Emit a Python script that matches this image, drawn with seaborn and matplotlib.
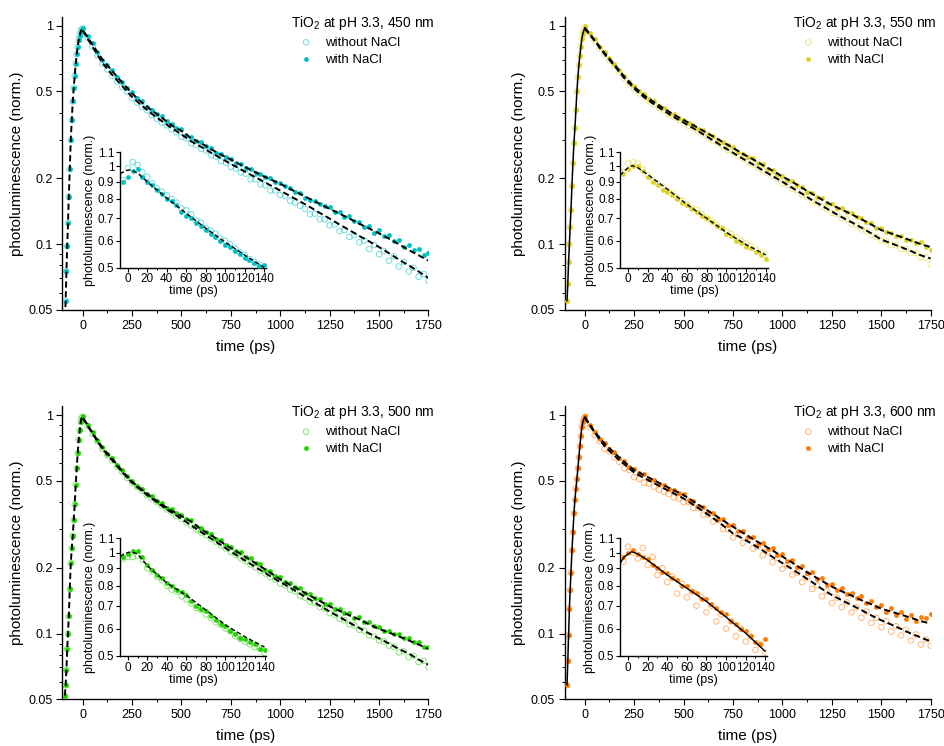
import matplotlib

matplotlib.use("Agg")
import matplotlib.pyplot as plt
import numpy as np
import seaborn as sns
from matplotlib.ticker import FixedLocator, FixedFormatter, MultipleLocator, NullFormatter

# time grids (ps)
t_rise = [-90, -86, -82, -78, -74, -70, -65, -60, -55, -50, -45, -40, -35, -30, -25, -20, -15, -10, -5]
t_decay = np.arange(0, 1751, 25)
t_fit = np.arange(0, 1751, 50)
t_inset = np.arange(-5, 141, 5)
t_inset_fit = [-8, -4, 0, 4, 10, 20, 40, 60, 80, 100, 120, 140]

main_yticks = [0.05, 0.1, 0.2, 0.5, 1]
main_yminor = [0.06, 0.07, 0.08, 0.09, 0.3, 0.4, 0.6, 0.7, 0.8, 0.9]
inset_yticks = [0.5, 0.6, 0.7, 0.8, 0.9, 1.0, 1.1]

# ---- 450 nm ----
rise_450 = [0.042, 0.055, 0.075, 0.098, 0.125, 0.165, 0.22, 0.30, 0.37, 0.45,
            0.52, 0.59, 0.67, 0.74, 0.80, 0.86, 0.90, 0.94, 0.96]
with_450 = [0.98, 0.90, 0.83, 0.76, 0.70, 0.66, 0.625, 0.58, 0.555, 0.52,
            0.495, 0.465, 0.45, 0.425, 0.41, 0.395, 0.385, 0.365, 0.355, 0.34,
            0.335, 0.315, 0.31, 0.298, 0.292, 0.28, 0.275, 0.262, 0.26, 0.25,
            0.246, 0.236, 0.233, 0.224, 0.222, 0.212, 0.21, 0.203, 0.20, 0.193,
            0.19, 0.184, 0.181, 0.174, 0.172, 0.163, 0.16, 0.158, 0.152, 0.150,
            0.148, 0.140, 0.141, 0.133, 0.134, 0.128, 0.127, 0.120, 0.121, 0.113,
            0.116, 0.109, 0.110, 0.103, 0.104, 0.097, 0.099, 0.094, 0.095, 0.089,
            0.091]
without_450 = [0.97, 0.88, 0.80, 0.73, 0.67, 0.63, 0.59, 0.555, 0.525, 0.50,
               0.465, 0.445, 0.425, 0.41, 0.39, 0.375, 0.36, 0.35, 0.335, 0.325,
               0.31, 0.305, 0.29, 0.285, 0.273, 0.268, 0.255, 0.252, 0.24, 0.236,
               0.226, 0.222, 0.213, 0.21, 0.198, 0.198, 0.188, 0.186, 0.176, 0.176,
               0.168, 0.166, 0.158, 0.155, 0.150, 0.145, 0.137, 0.138, 0.130, 0.130,
               0.122, 0.123, 0.115, 0.116, 0.108, 0.110, 0.102, 0.104, 0.095, 0.099,
               0.090, 0.093, 0.084, 0.088, 0.079, 0.083, 0.075, 0.078, 0.071, 0.073,
               0.068]
fit_with_450 = [0.96, 0.82, 0.70, 0.62, 0.55, 0.49, 0.445, 0.41, 0.38, 0.35,
                0.33, 0.305, 0.29, 0.272, 0.257, 0.244, 0.231, 0.219, 0.208, 0.198,
                0.189, 0.179, 0.170, 0.161, 0.153, 0.145, 0.138, 0.131, 0.124, 0.118,
                0.112, 0.106, 0.100, 0.094, 0.089, 0.084]
fit_without_450 = [0.95, 0.80, 0.675, 0.595, 0.53, 0.472, 0.43, 0.395, 0.366, 0.34,
                   0.318, 0.295, 0.279, 0.262, 0.247, 0.233, 0.220, 0.208, 0.197, 0.186,
                   0.176, 0.166, 0.157, 0.148, 0.139, 0.131, 0.123, 0.116, 0.109, 0.103,
                   0.097, 0.091, 0.085, 0.080, 0.075, 0.070]
inset_with_450 = [0.90, 0.93, 0.97, 0.98, 0.93, 0.90, 0.88, 0.85, 0.83, 0.80,
                  0.79, 0.765, 0.73, 0.71, 0.70, 0.68, 0.665, 0.645, 0.63, 0.615,
                  0.60, 0.585, 0.575, 0.56, 0.55, 0.535, 0.525, 0.515, 0.505, 0.51]
inset_without_450 = [0.91, 0.99, 1.03, 1.01, 0.96, 0.93, 0.89, 0.86, 0.84, 0.82,
                     0.80, 0.78, 0.75, 0.74, 0.72, 0.69, 0.68, 0.655, 0.645, 0.63,
                     0.61, 0.60, 0.585, 0.57, 0.555, 0.545, 0.53, 0.52, 0.51, 0.50]
inset_fit_450 = [0.95, 0.965, 0.975, 0.975, 0.955, 0.90, 0.805, 0.725, 0.655, 0.595, 0.545, 0.50]

# ---- 550 nm ----
rise_550 = [0.055, 0.066, 0.083, 0.10, 0.12, 0.143, 0.185, 0.235, 0.29, 0.34,
            0.41, 0.50, 0.58, 0.66, 0.73, 0.80, 0.87, 0.92, 0.95]
with_550 = [1.0, 0.93, 0.87, 0.80, 0.755, 0.71, 0.67, 0.625, 0.59, 0.555,
            0.53, 0.50, 0.485, 0.46, 0.452, 0.43, 0.422, 0.40, 0.395, 0.378,
            0.372, 0.357, 0.352, 0.338, 0.333, 0.318, 0.314, 0.30, 0.295, 0.283,
            0.278, 0.265, 0.26, 0.25, 0.247, 0.236, 0.232, 0.222, 0.218, 0.209,
            0.206, 0.197, 0.195, 0.186, 0.183, 0.174, 0.172, 0.164, 0.162, 0.155,
            0.153, 0.147, 0.146, 0.140, 0.139, 0.133, 0.132, 0.126, 0.125, 0.119,
            0.118, 0.114, 0.113, 0.109, 0.109, 0.105, 0.105, 0.101, 0.102, 0.097,
            0.094]
without_550 = [0.98, 0.91, 0.85, 0.785, 0.74, 0.69, 0.655, 0.61, 0.575, 0.54,
               0.515, 0.49, 0.47, 0.452, 0.437, 0.42, 0.408, 0.393, 0.382, 0.37,
               0.36, 0.348, 0.339, 0.327, 0.318, 0.307, 0.298, 0.288, 0.279, 0.270,
               0.262, 0.253, 0.246, 0.238, 0.232, 0.224, 0.218, 0.211, 0.205, 0.199,
               0.19, 0.187, 0.179, 0.176, 0.168, 0.164, 0.157, 0.154, 0.148, 0.145,
               0.139, 0.137, 0.131, 0.13, 0.124, 0.122, 0.117, 0.115, 0.110, 0.108,
               0.104, 0.103, 0.099, 0.099, 0.095, 0.095, 0.091, 0.091, 0.087, 0.087,
               0.081]
fit_with_550 = [0.98, 0.86, 0.75, 0.665, 0.585, 0.525, 0.48, 0.447, 0.418, 0.392,
                0.370, 0.350, 0.330, 0.311, 0.293, 0.276, 0.259, 0.245, 0.230, 0.217,
                0.204, 0.193, 0.181, 0.170, 0.160, 0.151, 0.144, 0.137, 0.130, 0.123,
                0.116, 0.112, 0.108, 0.104, 0.100, 0.097]
fit_without_550 = [0.97, 0.85, 0.74, 0.655, 0.575, 0.515, 0.47, 0.437, 0.408, 0.382,
                   0.360, 0.339, 0.318, 0.298, 0.279, 0.262, 0.246, 0.232, 0.218, 0.205,
                   0.193, 0.181, 0.170, 0.159, 0.150, 0.141, 0.133, 0.126, 0.119, 0.112,
                   0.105, 0.101, 0.097, 0.093, 0.089, 0.086]
inset_with_550 = [0.95, 0.98, 1.0, 1.0, 0.97, 0.93, 0.90, 0.88, 0.85, 0.84,
                  0.82, 0.80, 0.78, 0.77, 0.745, 0.73, 0.71, 0.70, 0.685, 0.665,
                  0.655, 0.63, 0.62, 0.60, 0.59, 0.575, 0.57, 0.555, 0.545, 0.53]
inset_without_550 = [0.96, 1.02, 1.03, 1.02, 0.98, 0.94, 0.91, 0.89, 0.87, 0.845,
                     0.83, 0.805, 0.79, 0.77, 0.75, 0.74, 0.72, 0.70, 0.69, 0.67,
                     0.655, 0.64, 0.63, 0.615, 0.60, 0.59, 0.58, 0.565, 0.555, 0.545]
inset_fit_550 = [0.94, 0.97, 0.99, 1.005, 0.99, 0.945, 0.855, 0.77, 0.70, 0.636, 0.585, 0.545]

# ---- 500 nm ----
rise_500 = [0.052, 0.058, 0.068, 0.085, 0.10, 0.12, 0.16, 0.21, 0.245, 0.28,
            0.33, 0.39, 0.48, 0.57, 0.67, 0.77, 0.85, 0.93, 0.97]
with_500 = [0.99, 0.90, 0.835, 0.765, 0.715, 0.665, 0.635, 0.59, 0.56, 0.525,
            0.50, 0.475, 0.46, 0.435, 0.425, 0.405, 0.395, 0.377, 0.37, 0.355,
            0.35, 0.335, 0.33, 0.312, 0.305, 0.29, 0.286, 0.272, 0.268, 0.254,
            0.25, 0.238, 0.235, 0.224, 0.221, 0.21, 0.207, 0.196, 0.194, 0.184,
            0.181, 0.172, 0.170, 0.163, 0.161, 0.154, 0.152, 0.145, 0.144, 0.137,
            0.136, 0.130, 0.130, 0.124, 0.124, 0.118, 0.119, 0.113, 0.113, 0.108,
            0.107, 0.103, 0.103, 0.099, 0.099, 0.095, 0.095, 0.091, 0.091, 0.087,
            0.087]
without_500 = [0.98, 0.89, 0.82, 0.755, 0.70, 0.655, 0.62, 0.58, 0.55, 0.515,
               0.49, 0.468, 0.45, 0.43, 0.415, 0.40, 0.385, 0.37, 0.358, 0.345,
               0.335, 0.322, 0.312, 0.30, 0.29, 0.282, 0.271, 0.263, 0.253, 0.245,
               0.236, 0.229, 0.221, 0.214, 0.207, 0.201, 0.193, 0.188, 0.181, 0.177,
               0.169, 0.166, 0.159, 0.156, 0.149, 0.146, 0.140, 0.138, 0.132, 0.130,
               0.124, 0.122, 0.117, 0.115, 0.110, 0.109, 0.104, 0.103, 0.098, 0.097,
               0.093, 0.092, 0.088, 0.087, 0.082, 0.083, 0.078, 0.079, 0.074, 0.075,
               0.070]
fit_with_500 = [0.98, 0.83, 0.71, 0.63, 0.555, 0.495, 0.455, 0.42, 0.39, 0.365,
                0.345, 0.325, 0.300, 0.282, 0.263, 0.246, 0.231, 0.217, 0.203, 0.190,
                0.177, 0.167, 0.158, 0.149, 0.141, 0.133, 0.127, 0.121, 0.116, 0.110,
                0.105, 0.101, 0.097, 0.093, 0.089, 0.085]
fit_without_500 = [0.97, 0.82, 0.70, 0.62, 0.548, 0.49, 0.45, 0.415, 0.384, 0.358,
                   0.335, 0.312, 0.291, 0.272, 0.254, 0.237, 0.222, 0.208, 0.195, 0.183,
                   0.172, 0.162, 0.152, 0.143, 0.134, 0.126, 0.119, 0.112, 0.106, 0.100,
                   0.095, 0.090, 0.085, 0.081, 0.076, 0.072]
inset_with_500 = [0.97, 0.99, 1.01, 1.01, 0.97, 0.92, 0.89, 0.86, 0.84, 0.815,
                  0.80, 0.78, 0.765, 0.75, 0.72, 0.70, 0.685, 0.675, 0.655, 0.635,
                  0.62, 0.61, 0.59, 0.58, 0.565, 0.56, 0.55, 0.54, 0.525, 0.52]
inset_without_500 = [0.96, 0.97, 0.97, 0.98, 0.95, 0.90, 0.88, 0.85, 0.83, 0.80,
                     0.78, 0.77, 0.745, 0.73, 0.71, 0.69, 0.68, 0.66, 0.645, 0.625,
                     0.615, 0.60, 0.59, 0.57, 0.56, 0.55, 0.54, 0.53, 0.525, 0.51]
inset_fit_500 = [0.975, 0.99, 1.0, 1.005, 0.99, 0.915, 0.815, 0.75, 0.68, 0.615, 0.568, 0.53]

# ---- 600 nm ----
rise_600 = [0.058, 0.075, 0.098, 0.13, 0.158, 0.19, 0.24, 0.29, 0.355, 0.41,
            0.46, 0.51, 0.57, 0.64, 0.72, 0.80, 0.88, 0.93, 0.96]
with_600 = [0.99, 0.90, 0.84, 0.78, 0.745, 0.70, 0.675, 0.635, 0.615, 0.58,
            0.565, 0.54, 0.535, 0.51, 0.505, 0.485, 0.48, 0.46, 0.455, 0.44,
            0.435, 0.41, 0.405, 0.385, 0.38, 0.36, 0.355, 0.335, 0.333, 0.315,
            0.313, 0.295, 0.295, 0.276, 0.277, 0.258, 0.26, 0.243, 0.245, 0.228,
            0.23, 0.214, 0.217, 0.202, 0.204, 0.189, 0.192, 0.177, 0.18, 0.166,
            0.168, 0.158, 0.161, 0.152, 0.154, 0.145, 0.148, 0.138, 0.141, 0.132,
            0.135, 0.126, 0.131, 0.121, 0.126, 0.117, 0.122, 0.114, 0.119, 0.118,
            0.123]
without_600 = [0.98, 0.88, 0.81, 0.76, 0.70, 0.68, 0.64, 0.61, 0.57, 0.56,
               0.52, 0.51, 0.49, 0.485, 0.47, 0.455, 0.445, 0.435, 0.42, 0.415,
               0.40, 0.40, 0.375, 0.375, 0.35, 0.35, 0.325, 0.33, 0.30, 0.30,
               0.275, 0.285, 0.26, 0.27, 0.245, 0.25, 0.228, 0.236, 0.212, 0.222,
               0.198, 0.205, 0.186, 0.19, 0.172, 0.18, 0.16, 0.166, 0.148, 0.156,
               0.138, 0.146, 0.132, 0.139, 0.125, 0.132, 0.118, 0.126, 0.112, 0.118,
               0.107, 0.114, 0.102, 0.108, 0.098, 0.104, 0.093, 0.099, 0.089, 0.094,
               0.088]
fit_with_600 = [0.98, 0.84, 0.74, 0.67, 0.61, 0.56, 0.531, 0.503, 0.477, 0.453,
                0.43, 0.402, 0.376, 0.352, 0.329, 0.308, 0.289, 0.271, 0.255, 0.24,
                0.225, 0.211, 0.197, 0.185, 0.174, 0.164, 0.156, 0.149, 0.142, 0.136,
                0.130, 0.126, 0.122, 0.118, 0.114, 0.111]
fit_without_600 = [0.97, 0.83, 0.72, 0.65, 0.595, 0.545, 0.515, 0.488, 0.462, 0.438,
                   0.415, 0.388, 0.362, 0.337, 0.312, 0.287, 0.272, 0.256, 0.24, 0.224,
                   0.21, 0.197, 0.184, 0.172, 0.160, 0.150, 0.142, 0.135, 0.128, 0.121,
                   0.115, 0.110, 0.105, 0.100, 0.096, 0.092]
inset_with_600 = [0.97, 1.0, 1.02, 0.99, 0.97, 0.96, 0.92, 0.90, 0.88, 0.87,
                  0.84, 0.83, 0.80, 0.80, 0.77, 0.76, 0.73, 0.73, 0.71, 0.69,
                  0.67, 0.66, 0.63, 0.62, 0.60, 0.59, 0.57, 0.55, 0.54, 0.56]
inset_without_600 = [0.94, 1.04, 1.0, 0.96, 1.03, 0.92, 0.97, 0.86, 0.90, 0.82,
                     0.85, 0.76, 0.81, 0.74, 0.77, 0.70, 0.74, 0.67, 0.70, 0.63,
                     0.66, 0.60, 0.63, 0.57, 0.60, 0.55, 0.57, 0.52, 0.54, 0.51]
inset_fit_600 = [0.93, 0.97, 0.99, 1.005, 0.99, 0.95, 0.86, 0.787, 0.72, 0.648, 0.582, 0.515]

panels = [
    dict(wl="450", color="#00BFC2", main=[0.0661, 0.5845, 0.3873, 0.3932], inset=[0.127, 0.6414, 0.1545, 0.1542],
         rise=rise_450, without=without_450, with_=with_450, fit_without=fit_without_450, fit_with=fit_with_450,
         in_without=inset_without_450, in_with=inset_with_450, in_fit=inset_fit_450, solid=False),
    dict(wl="550", color="#DDD324", main=[0.5975, 0.5845, 0.3873, 0.3932], inset=[0.6564, 0.6414, 0.1560, 0.1542],
         rise=rise_550, without=without_550, with_=with_550, fit_without=fit_without_550, fit_with=fit_with_550,
         in_without=inset_without_550, in_with=inset_with_550, in_fit=inset_fit_550, solid=True),
    dict(wl="500", color="#22D200", main=[0.0661, 0.0626, 0.3873, 0.3932], inset=[0.127, 0.1209, 0.1550, 0.1575],
         rise=rise_500, without=without_500, with_=with_500, fit_without=fit_without_500, fit_with=fit_with_500,
         in_without=inset_without_500, in_with=inset_with_500, in_fit=inset_fit_500, solid=False),
    dict(wl="600", color="#FF7A00", main=[0.5975, 0.0626, 0.3873, 0.3932], inset=[0.6563, 0.1209, 0.1556, 0.1575],
         rise=rise_600, without=without_600, with_=with_600, fit_without=fit_without_600, fit_with=fit_with_600,
         in_without=inset_without_600, in_with=inset_with_600, in_fit=inset_fit_600, solid=True),
]

sns.set_style("ticks", {"axes.edgecolor": "black", "xtick.color": "black", "ytick.color": "black",
                        "text.color": "black", "axes.labelcolor": "black"})
plt.rcParams["font.family"] = ["Liberation Sans", "DejaVu Sans"]
plt.rcParams["mathtext.fontset"] = "custom"
plt.rcParams["mathtext.rm"] = "Liberation Sans"

DASH = (0, (3.2, 1.8))


def style_axis(ax, labelsize, major_len, minor_len, pad):
    sns.despine(ax=ax)
    for side in ("left", "bottom"):
        ax.spines[side].set_linewidth(1.0)
    ax.tick_params(which="major", direction="out", length=major_len, width=0.8, labelsize=labelsize, pad=pad)
    ax.tick_params(which="minor", direction="out", length=minor_len, width=0.7)


def draw_panel(fig, p):
    ax = fig.add_axes(p["main"])
    ax.set_yscale("log")
    c = p["color"]

    x_all = np.concatenate([t_rise, t_decay])
    sns.scatterplot(x=x_all, y=np.concatenate([p["rise"], p["without"]]), ax=ax, marker="o", s=16,
                    facecolor="none", edgecolor=c, linewidth=0.7, alpha=0.55, label="without NaCl", zorder=2)
    sns.scatterplot(x=x_all, y=np.concatenate([p["rise"], p["with_"]]), ax=ax, marker="o", s=10,
                    color=c, edgecolor=c, linewidth=0.3, label="with NaCl", zorder=3)

    if p["solid"]:
        sns.lineplot(x=list(t_rise) + [0], y=list(p["rise"]) + [p["fit_with"][0]], ax=ax, color="black",
                     linewidth=1.1, estimator=None, sort=False, zorder=4)
        sns.lineplot(x=t_fit, y=p["fit_with"], ax=ax, color="black", linewidth=1.4, linestyle=DASH,
                     estimator=None, sort=False, zorder=4)
    else:
        sns.lineplot(x=np.concatenate([t_rise, t_fit]), y=np.concatenate([p["rise"], p["fit_with"]]), ax=ax,
                     color="black", linewidth=1.4, linestyle=DASH, estimator=None, sort=False, zorder=4)
    sns.lineplot(x=t_fit, y=p["fit_without"], ax=ax, color="black", linewidth=1.4, linestyle=DASH,
                 estimator=None, sort=False, zorder=4)

    ax.set_xlim(-102, 1750)
    ax.set_ylim(0.05, 1.1)
    ax.xaxis.set_major_locator(MultipleLocator(250))
    ax.xaxis.set_minor_locator(MultipleLocator(125))
    ax.yaxis.set_major_locator(FixedLocator(main_yticks))
    ax.yaxis.set_major_formatter(FixedFormatter(["%g" % v for v in main_yticks]))
    ax.yaxis.set_minor_locator(FixedLocator(main_yminor))
    ax.yaxis.set_minor_formatter(NullFormatter())
    style_axis(ax, 9, 4, 2.3, 3)
    ax.set_xlabel("time (ps)", fontsize=11, labelpad=6)
    ax.set_ylabel("photoluminescence (norm.)", fontsize=11, labelpad=3)

    ax.text(0.625, 0.966, "TiO$_\\mathregular{2}$ at pH 3.3, %s nm" % p["wl"], transform=ax.transAxes,
            ha="left", va="baseline", fontsize=10)
    ax.legend(loc="upper left", bbox_to_anchor=(0.644, 0.932), frameon=False, borderpad=0, borderaxespad=0,
              handlelength=1.2, handletextpad=0.8, labelspacing=0.34, fontsize=9.5)

    # inset: early-time zoom
    ins = fig.add_axes(p["inset"])
    ins.set_facecolor("none")
    ins.set_yscale("log")
    sns.scatterplot(x=t_inset, y=p["in_without"], ax=ins, marker="o", s=16, facecolor="none", edgecolor=c,
                    linewidth=0.7, alpha=0.55, zorder=2, legend=False)
    sns.scatterplot(x=t_inset, y=p["in_with"], ax=ins, marker="o", s=10, color=c, edgecolor=c, linewidth=0.3,
                    zorder=3, legend=False)
    sns.lineplot(x=t_inset_fit, y=p["in_fit"], ax=ins, color="black", linewidth=1.0,
                 linestyle="-" if p["wl"] == "600" else DASH, estimator=None, sort=False, zorder=4)
    ins.set_xlim(-8, 142)
    ins.set_ylim(0.5, 1.1)
    ins.xaxis.set_major_locator(MultipleLocator(20))
    ins.xaxis.set_minor_locator(MultipleLocator(10))
    ins.yaxis.set_major_locator(FixedLocator(inset_yticks))
    ins.yaxis.set_major_formatter(FixedFormatter(["%g" % v for v in inset_yticks]))
    ins.yaxis.set_minor_locator(FixedLocator([]))
    style_axis(ins, 8.5, 3, 1.6, 1.2)
    ins.set_xlabel("time (ps)", fontsize=9, labelpad=0)
    ins.set_ylabel("photoluminescence (norm.)", fontsize=9, labelpad=1)


fig = plt.figure(figsize=(9.45, 7.46), dpi=100)
for p in panels:
    draw_panel(fig, p)
fig.savefig("out.png", dpi=100)
